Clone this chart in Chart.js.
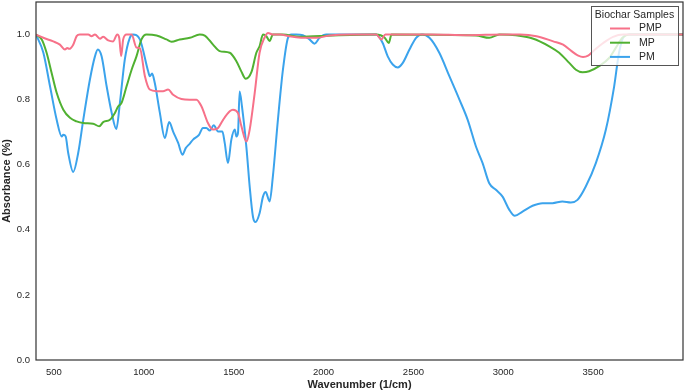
<!DOCTYPE html>
<html>
<head>
<meta charset="utf-8">
<script src="https://cdn.jsdelivr.net/npm/chart.js@4.4.1/dist/chart.umd.min.js"></script>
<style>
  html, body { margin: 0; padding: 0; background: #fff; }
  #wrap { width: 685px; height: 392px; }
</style>
</head>
<body>
<div id="wrap"><canvas id="myChart" width="685" height="392"></canvas></div>
<script>
// series labels and colours
const seriesNames = ["PMP", "MP", "PM"];
const seriesColors = ["#f77189", "#50b131", "#3ba3ec"];

// PMP
const pmpWave = [400, 441, 496, 533, 561, 574, 585, 607, 626, 644, 691, 709, 728, 756, 774, 802, 829, 852, 863, 874, 885, 904, 932, 959, 978, 1006, 1033, 1071, 1107, 1135, 1163, 1209, 1256, 1293, 1321, 1357, 1385, 1413, 1441, 1478, 1496, 1524, 1543, 1571, 1589, 1617, 1644, 1672, 1691, 1718, 1756, 1811, 1885, 1959, 2033, 2144, 2293, 2321, 2344, 2600, 2800, 3000, 3093, 3185, 3278, 3333, 3380, 3417, 3444, 3472, 3500, 3556, 3611, 3667, 4000];
const pmpAbs  = [1.0, 0.99, 0.979, 0.969, 0.954, 0.959, 0.956, 0.969, 0.995, 1.0, 1.0, 0.995, 1.0, 0.987, 0.993, 0.982, 0.979, 1.0, 0.99, 0.934, 0.985, 1.0, 1.0, 0.96, 0.958, 0.872, 0.831, 0.826, 0.826, 0.831, 0.815, 0.802, 0.8, 0.8, 0.779, 0.728, 0.708, 0.713, 0.738, 0.764, 0.769, 0.759, 0.718, 0.671, 0.708, 0.821, 0.944, 0.991, 1.005, 1.0, 1.0, 0.995, 0.99, 0.99, 0.997, 1.0, 1.0, 0.985, 1.0, 1.0, 0.998, 1.0, 1.0, 0.995, 0.979, 0.969, 0.949, 0.935, 0.931, 0.935, 0.949, 0.974, 0.993, 1.0, 1.0];

// MP
const mpWave = [400, 432, 459, 487, 515, 552, 589, 626, 663, 718, 752, 774, 811, 839, 857, 876, 904, 932, 959, 987, 1015, 1071, 1126, 1154, 1200, 1256, 1311, 1339, 1385, 1422, 1478, 1515, 1543, 1567, 1599, 1626, 1644, 1663, 1682, 1700, 1718, 1774, 1867, 2052, 2293, 2339, 2363, 2378, 2848, 2922, 2978, 3070, 3163, 3256, 3311, 3367, 3404, 3441, 3478, 3533, 3589, 3626, 3663, 3700, 4000];
const mpAbs  = [1.0, 0.985, 0.944, 0.882, 0.821, 0.769, 0.744, 0.733, 0.728, 0.726, 0.718, 0.731, 0.738, 0.759, 0.779, 0.79, 0.841, 0.892, 0.933, 0.985, 1.0, 0.997, 0.985, 0.978, 0.985, 0.99, 1.0, 0.997, 0.969, 0.949, 0.944, 0.918, 0.886, 0.864, 0.885, 0.944, 0.964, 1.0, 0.995, 0.98, 1.0, 1.0, 0.993, 0.997, 1.0, 0.991, 0.974, 1.0, 0.997, 0.99, 1.0, 0.998, 0.988, 0.964, 0.944, 0.913, 0.892, 0.884, 0.887, 0.903, 0.928, 0.959, 0.99, 1.0, 1.0];

// PM
const pmWave = [400, 441, 478, 515, 543, 552, 565, 579, 607, 635, 663, 700, 728, 744, 765, 793, 821, 847, 867, 894, 922, 939, 978, 1024, 1033, 1046, 1061, 1089, 1117, 1141, 1163, 1191, 1215, 1233, 1256, 1274, 1307, 1329, 1348, 1367, 1389, 1413, 1437, 1450, 1468, 1487, 1506, 1515, 1524, 1533, 1546, 1571, 1589, 1607, 1621, 1644, 1663, 1678, 1700, 1718, 1746, 1774, 1802, 1821, 1848, 1885, 1922, 1950, 1978, 2015, 2144, 2293, 2329, 2357, 2385, 2413, 2441, 2478, 2515, 2548, 2589, 2644, 2700, 2756, 2802, 2848, 2885, 2922, 2959, 2996, 3033, 3064, 3107, 3163, 3218, 3274, 3329, 3376, 3413, 3459, 3515, 3571, 3617, 3644, 3672, 3700, 4000];
const pmAbs  = [1.0, 0.944, 0.841, 0.738, 0.687, 0.692, 0.687, 0.637, 0.578, 0.637, 0.738, 0.862, 0.933, 0.954, 0.933, 0.841, 0.76, 0.71, 0.791, 0.923, 0.99, 1.0, 0.985, 0.887, 0.872, 0.88, 0.851, 0.76, 0.682, 0.731, 0.702, 0.667, 0.631, 0.651, 0.665, 0.677, 0.692, 0.713, 0.713, 0.705, 0.721, 0.702, 0.702, 0.667, 0.605, 0.677, 0.708, 0.687, 0.698, 0.825, 0.779, 0.652, 0.533, 0.441, 0.424, 0.451, 0.502, 0.516, 0.487, 0.564, 0.738, 0.892, 0.99, 1.0, 1.0, 0.998, 0.985, 0.972, 0.99, 1.0, 1.0, 1.0, 0.974, 0.933, 0.908, 0.899, 0.913, 0.954, 0.99, 1.0, 0.99, 0.944, 0.872, 0.8, 0.738, 0.656, 0.605, 0.543, 0.523, 0.502, 0.462, 0.443, 0.456, 0.474, 0.482, 0.482, 0.487, 0.484, 0.492, 0.533, 0.605, 0.708, 0.841, 0.944, 0.995, 1.0, 1.0];

// axis ticks
const xTicks = [500, 1000, 1500, 2000, 2500, 3000, 3500];
const yTicks = [0.0, 0.2, 0.4, 0.6, 0.8, 1.0];

const toPoints = (xs, ys) => xs.map((x, i) => ({ x: x, y: ys[i] }));
const allWaves = [pmpWave, mpWave, pmWave];
const allAbs = [pmpAbs, mpAbs, pmAbs];

const TEXT = "#262626";
const FONT = "'Liberation Sans', Arial, sans-serif";

// frame round the plot + legend box in the upper right
const framePlugin = {
  id: "frame",
  afterDatasetsDraw(chart) {
    const { ctx, chartArea: a } = chart;
    ctx.save();
    ctx.strokeStyle = "#333333";
    ctx.lineWidth = 1.2;
    ctx.strokeRect(a.left, a.top, a.right - a.left, a.bottom - a.top);

    // legend
    const bx = a.right - 92, by = a.top + 4, bw = 87, bh = 59;
    ctx.fillStyle = "rgba(255,255,255,0.8)";
    ctx.fillRect(bx, by, bw, bh);
    ctx.strokeStyle = "#555555";
    ctx.lineWidth = 1;
    ctx.strokeRect(bx + 0.5, by + 0.5, bw, bh);
    ctx.fillStyle = TEXT;
    ctx.font = "10.5px " + FONT;
    ctx.textBaseline = "middle";
    ctx.textAlign = "center";
    ctx.fillText("Biochar Samples", bx + bw / 2, by + 9);
    ctx.textAlign = "left";
    seriesNames.forEach((name, i) => {
      const y = by + 22.5 + i * 14.2;
      ctx.strokeStyle = seriesColors[i];
      ctx.lineWidth = 2;
      ctx.beginPath();
      ctx.moveTo(bx + 19, y);
      ctx.lineTo(bx + 39, y);
      ctx.stroke();
      ctx.fillStyle = TEXT;
      ctx.fillText(name, bx + 48, y);
    });
    ctx.restore();
  }
};

const ctx = document.getElementById("myChart").getContext("2d");
const myChart = new Chart(ctx, {
  type: "line",
  data: {
    datasets: seriesNames.map((name, i) => ({
      label: name,
      data: toPoints(allWaves[i], allAbs[i]),
      borderColor: seriesColors[i],
      backgroundColor: seriesColors[i],
      borderWidth: 2,
      pointRadius: 0,
      fill: false,
      cubicInterpolationMode: "monotone",
    })),
  },
  options: {
    responsive: false,
    animation: false,
    layout: { padding: { left: 0, right: 2, top: 2, bottom: 0 } },
    plugins: {
      legend: { display: false },
      tooltip: { enabled: false },
    },
    scales: {
      x: {
        type: "linear",
        min: 400,
        max: 4000,
        grid: { display: false, drawTicks: false },
        border: { display: false },
        afterBuildTicks: (s) => { s.ticks = xTicks.map((v) => ({ value: v })); },
        afterFit: (s) => {
          s.height = 32;
          s.paddingLeft = 0;
          s.paddingRight = 0;
        },
        ticks: {
          color: TEXT,
          font: { size: 9.5, family: FONT },
          padding: 7,
          maxRotation: 0,
          callback: (v) => String(v),
        },
        title: {
          display: true,
          text: "Wavenumber (1/cm)",
          color: TEXT,
          font: { size: 11, weight: "bold", family: FONT },
          padding: { top: 0, bottom: 0 },
        },
      },
      y: {
        min: 0,
        max: 1.1,
        grid: { display: false, drawTicks: false },
        border: { display: false },
        afterBuildTicks: (s) => { s.ticks = yTicks.map((v) => ({ value: v })); },
        afterFit: (s) => {
          s.width = 36;
          s.paddingTop = 0;
          s.paddingBottom = 0;
        },
        ticks: {
          color: TEXT,
          font: { size: 9.5, family: FONT },
          padding: 6,
          callback: (v) => v.toFixed(1),
        },
        title: {
          display: true,
          text: "Absorbance (%)",
          color: TEXT,
          font: { size: 11, weight: "bold", family: FONT },
          padding: { top: 0, bottom: 0 },
        },
      },
    },
  },
  plugins: [framePlugin],
});
</script>
</body>
</html>
